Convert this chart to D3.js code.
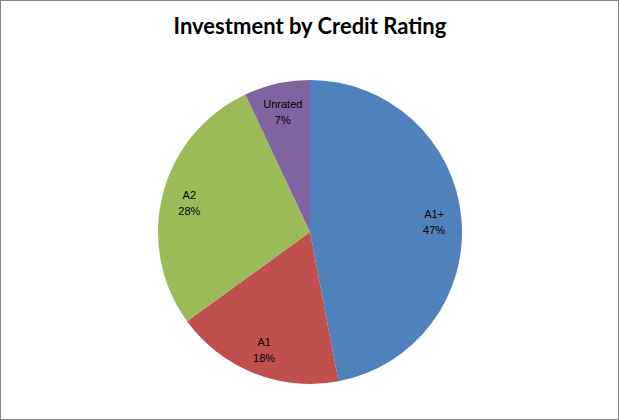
<!DOCTYPE html>
<html><head><meta charset="utf-8">
<script src="https://cdn.jsdelivr.net/npm/d3@7"></script>
<style>body{margin:0;background:#fff}</style>
</head><body>
<script>
const categories = ["A1+", "A1", "A2", "Unrated"];
const values = [47, 18, 28, 7];
const colors = ["#4F81BD", "#C0504D", "#9BBB59", "#8064A2"];
const title = "Investment by Credit Rating";

const W = 619, H = 420;
const svg = d3.select("body").append("svg").attr("width", W).attr("height", H);
svg.append("rect").attr("x", 0.5).attr("y", 0.5).attr("width", W - 1).attr("height", H - 1)
  .attr("fill", "#fff").attr("stroke", "#868686");

svg.append("text").attr("x", 310).attr("y", 34).attr("text-anchor", "middle")
  .attr("font-family", "Lato, 'Liberation Sans', sans-serif").attr("font-weight", "bold")
  .attr("font-size", 22).text(title);

const cx = 310, cy = 232, r = 152;
const data = categories.map((c, i) => ({cat: c, value: values[i], color: colors[i]}));
const pie = d3.pie().value(d => d.value).sort(null);
const arc = d3.arc().innerRadius(0).outerRadius(r);
const labelArc = d3.arc().innerRadius(r * 0.82).outerRadius(r * 0.82);
const g = svg.append("g").attr("transform", `translate(${cx},${cy})`);
const arcs = pie(data);
g.selectAll("path").data(arcs).join("path").attr("d", arc).attr("fill", d => d.data.color);
const total = d3.sum(values);
const lab = g.selectAll("text").data(arcs).join("text")
  .attr("transform", d => `translate(${labelArc.centroid(d)})`)
  .attr("text-anchor", "middle").attr("font-family", "'Liberation Sans', sans-serif")
  .attr("font-size", 11).attr("fill", "#000");
lab.append("tspan").attr("x", 0).attr("dy", "-0.2em").text(d => d.data.cat);
lab.append("tspan").attr("x", 0).attr("dy", "1.45em").text(d => Math.round(d.data.value / total * 100) + "%");
</script>
</body></html>
